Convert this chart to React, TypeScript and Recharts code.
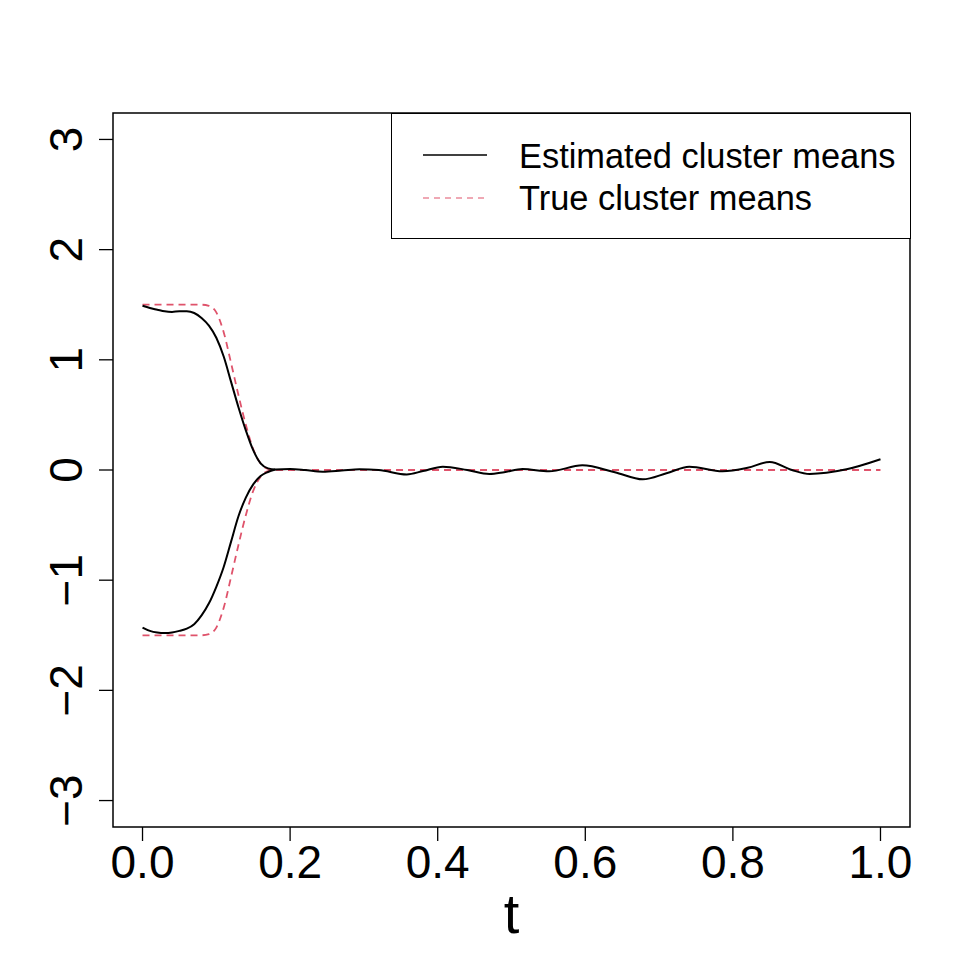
import React from "react";
import { LineChart, Line, XAxis, YAxis, ReferenceArea, Legend } from "recharts";

// Estimated cluster mean, upper branch (continues after merge)
const estUpperT = [0, 0.01, 0.02, 0.03, 0.04, 0.05, 0.06, 0.07, 0.08, 0.09, 0.1, 0.11, 0.12, 0.13, 0.14, 0.15, 0.16, 0.17, 0.18, 0.2, 0.22, 0.244, 0.27, 0.294, 0.32, 0.358, 0.38, 0.407, 0.44, 0.47, 0.49, 0.515, 0.551, 0.596, 0.64, 0.678, 0.71, 0.741, 0.786, 0.82, 0.85, 0.88, 0.904, 0.954, 1.0];
const estUpperV = [1.49, 1.47, 1.455, 1.44, 1.435, 1.44, 1.44, 1.425, 1.38, 1.31, 1.2, 1.03, 0.8, 0.57, 0.36, 0.18, 0.06, 0.015, 0.005, 0.008, 0.0, -0.015, -0.005, 0.006, 0.0, -0.04, -0.01, 0.03, 0.0, -0.036, -0.02, 0.009, -0.012, 0.042, -0.02, -0.085, -0.03, 0.03, -0.012, 0.02, 0.073, 0.0, -0.036, 0.006, 0.097];

// Estimated cluster mean, lower branch (until merge)
const estLowerT = [0, 0.01, 0.02, 0.03, 0.04, 0.05, 0.06, 0.07, 0.08, 0.09, 0.1, 0.11, 0.12, 0.13, 0.14, 0.15, 0.16, 0.17, 0.18];
const estLowerV = [-1.43, -1.46, -1.475, -1.48, -1.475, -1.46, -1.44, -1.4, -1.32, -1.21, -1.06, -0.88, -0.65, -0.42, -0.25, -0.13, -0.055, -0.018, 0.005];

// True cluster means (upper = +, lower = −)
const trueT = [0, 0.02, 0.04, 0.06, 0.08, 0.09, 0.1, 0.11, 0.12, 0.13, 0.14, 0.15, 0.16, 0.17, 0.18, 0.2, 0.4, 0.6, 0.8, 1.0];
const trueUpperV = [1.5, 1.5, 1.5, 1.5, 1.5, 1.49, 1.43, 1.25, 0.97, 0.68, 0.41, 0.19, 0.06, 0.01, 0, 0, 0, 0, 0, 0];
const trueLowerCount = 16;

const xTicks = [0, 0.2, 0.4, 0.6, 0.8, 1.0];
const yTicks = [-3, -2, -1, 0, 1, 2, 3];

const legendLabels = ["Estimated cluster means", "True cluster means"];

const RED = "#DF536B";
const FONT = "'Liberation Sans', Arial, Helvetica, sans-serif";

const estUpper = estUpperT.map((t, i) => ({ t, v: estUpperV[i] }));
const estLower = estLowerT.map((t, i) => ({ t, v: estLowerV[i] }));
const trueUpper = trueT.map((t, i) => ({ t, v: trueUpperV[i] }));
const trueLower = trueT.slice(0, trueLowerCount).map((t, i) => ({ t, v: -trueUpperV[i] }));

const fmt = (v: number) => (v < 0 ? "\u2212" + String(-v) : String(v));

const YTick = (props: any) => {
  const { x, y, payload } = props;
  return (
    <text
      transform={`translate(${x}, ${y}) rotate(-90)`}
      textAnchor="middle"
      fontSize={46}
      fontFamily={FONT}
      fill="#000"
    >
      {fmt(payload.value)}
    </text>
  );
};

const XLabel = (props: any) => {
  const vb = props.viewBox;
  return (
    <text x={vb.x + vb.width / 2} y={vb.y + 106} textAnchor="middle" fontSize={56} fontFamily={FONT} fill="#000">
      t
    </text>
  );
};

const LegendContent = () => (
  <svg width={519} height={125} style={{ display: "block" }}>
    <line x1={31} x2={95} y1={41} y2={41} stroke="#000" strokeWidth={1.5} />
    <line x1={31} x2={95} y1={84} y2={84} stroke={RED} strokeWidth={1.1} strokeDasharray="6 5" />
    <text x={127} y={54} fontSize={34.4} fontFamily={FONT} fill="#000">
      {legendLabels[0]}
    </text>
    <text x={127} y={96} fontSize={34.4} fontFamily={FONT} fill="#000">
      {legendLabels[1]}
    </text>
  </svg>
);

export default function App() {
  return (
    <div style={{ position: "absolute", left: 0, top: 0, width: 969, height: 969, background: "#fff" }}>
      <LineChart width={969} height={969} margin={{ top: 113, right: 59, bottom: 0, left: 0 }}>
        <XAxis
          dataKey="t"
          type="number"
          domain={[-0.04, 1.04]}
          allowDataOverflow
          ticks={xTicks}
          tickFormatter={(v: number) => v.toFixed(1)}
          height={142}
          tickSize={14}
          tickMargin={4}
          axisLine={false}
          tickLine={{ stroke: "#000", strokeWidth: 1.3 }}
          tick={{ fontSize: 46, fontFamily: FONT, fill: "#000" }}
          interval={0}
          label={<XLabel />}
        />
        <YAxis
          type="number"
          domain={[-3.24, 3.24]}
          allowDataOverflow
          ticks={yTicks}
          width={113}
          tickSize={14}
          tickMargin={17}
          axisLine={false}
          tickLine={{ stroke: "#000", strokeWidth: 1.3 }}
          tick={<YTick />}
          interval={0}
        />
        <ReferenceArea
          x1={-0.04}
          x2={1.04}
          y1={-3.24}
          y2={3.24}
          fill="none"
          fillOpacity={0}
          stroke="#000"
          strokeWidth={1.5}
          ifOverflow="visible"
        />
        <Line data={trueUpper} dataKey="v" type="monotone" stroke={RED} strokeWidth={1.8} strokeDasharray="7 5" dot={false} isAnimationActive={false} />
        <Line data={trueLower} dataKey="v" type="monotone" stroke={RED} strokeWidth={1.8} strokeDasharray="7 5" dot={false} isAnimationActive={false} />
        <Line data={estUpper} dataKey="v" type="monotone" stroke="#000" strokeWidth={2} dot={false} isAnimationActive={false} />
        <Line data={estLower} dataKey="v" type="monotone" stroke="#000" strokeWidth={2} dot={false} isAnimationActive={false} />
        <Legend
          layout="vertical"
          align="center"
          verticalAlign="middle"
          content={<LegendContent />}
          wrapperStyle={{
            position: "absolute",
            left: 391,
            top: 113,
            width: 520,
            height: 126,
            border: "1.5px solid #000",
            boxSizing: "border-box",
            background: "#fff",
          }}
        />
      </LineChart>
    </div>
  );
}
